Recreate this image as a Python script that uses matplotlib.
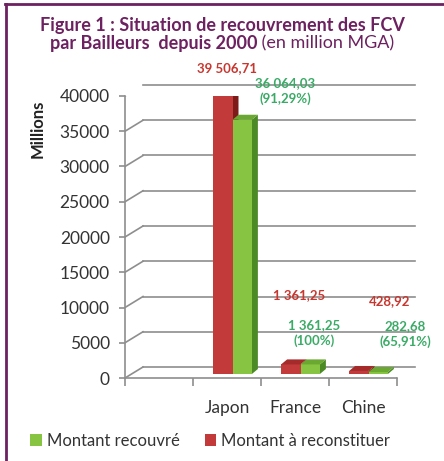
import matplotlib
matplotlib.use("Agg")
import matplotlib.pyplot as plt
from matplotlib.patches import Polygon, Patch
from matplotlib.lines import Line2D
from matplotlib.transforms import ScaledTranslation

# ---------------- data ----------------
categories = ["", "Japon", "France", "Chine"]
reconstituer = [None, 39506.71, 1361.25, 428.92]     # red
recouvre = [None, 36064.03, 1361.25, 282.68]          # green
red_labels = [None, "39 506,71", "1 361,25", "428,92"]
green_labels = [None, "36 064,03\n(91,29%)", "1 361,25\n(100%)", "282,68\n(65,91%)"]
yticks = list(range(0, 40001, 5000))
series_names = ["Montant recouvré", "Montant à reconstituer"]

# ---------------- style ----------------
FONT = "Lato"
plt.rcParams["font.family"] = [FONT, "DejaVu Sans"]
PURPLE = "#6d2160"
RED = "#c23a3a"
RED_TOP = "#a52a2a"
RED_SIDE = "#7d1a1a"
GREEN = "#86c441"
GREEN_TOP = "#6aa832"
GREEN_SIDE = "#4b8a25"
RED_TXT = "#c8372f"
GREEN_TXT = "#3aab66"
GRID = "#8e8e8e"
TXT = "#333333"

W, H, DPI = 444, 461, 100
fig = plt.figure(figsize=(W / DPI, H / DPI), dpi=DPI, facecolor="white")

# axes position (front plane) in pixels
left_px, right_px, bottom_px, top_px = 125, 397, 378, 96
ax = fig.add_axes([left_px / W, (H - bottom_px) / H,
                   (right_px - left_px) / W, (bottom_px - top_px) / H])
ax.set_xlim(0, len(categories))
ax.set_ylim(0, 40000)
ax.patch.set_alpha(0)

def px(dx, dy):
    return ScaledTranslation(dx / DPI, dy / DPI, fig.dpi_scale_trans)

# wall depth
WALL = px(18, 11)
wall_tr = ax.transData + WALL

# back wall gridlines + side diagonals
for v in yticks:
    ax.plot([0, len(categories)], [v, v], color=GRID, lw=1.2, transform=wall_tr,
            clip_on=False, zorder=1)
    x0, y0 = ax.transData.transform((0, v))
    ax.add_artist(Line2D([x0, x0 + 18], [y0, y0 + 11], color=GRID, lw=1.2,
                         transform=None, zorder=1))
# floor right diagonal
x0, y0 = ax.transData.transform((len(categories), 0))
ax.add_artist(Line2D([x0, x0 + 16], [y0, y0 + 11], color=GRID, lw=1.2,
                     transform=None, zorder=1))

# axes styling
for s in ["top", "right"]:
    ax.spines[s].set_visible(False)
for s in ["left", "bottom"]:
    ax.spines[s].set_color(GRID)
    ax.spines[s].set_linewidth(1.2)
ax.set_yticks(yticks)
ax.set_yticklabels([str(v) for v in yticks], fontsize=12.5, color=TXT)
ax.tick_params(axis="y", length=4, color=GRID, width=1.2, pad=7)
ax.set_xticks(range(len(categories) + 1))
ax.set_xticklabels([])
ax.tick_params(axis="x", which="major", length=6, color=GRID, width=1.2)
ax.set_xticks([i + 0.5 for i in range(len(categories))], minor=True)
ax.set_xticklabels(categories, minor=True, fontsize=12.5, color=TXT)
ax.tick_params(axis="x", which="minor", length=0, pad=16)
ax.set_ylabel("Millions", fontsize=12, fontweight="bold", color="#222222")
ax.yaxis.set_label_coords((46 - left_px) / (right_px - left_px),
                          (bottom_px - 129) / (bottom_px - top_px))

# bars (pseudo 3D)
BAR_W = 0.285
bar_front = ax.transData + px(5.5, 4)
inv = ax.transData.inverted()
o = inv.transform((0, 0))
d = inv.transform((6, 5))
ddx, ddy = d[0] - o[0], d[1] - o[1]

def bar3d(xl, h, face, top, side):
    ax.bar(xl, h, width=BAR_W, align="edge", color=face, transform=bar_front,
           zorder=5, linewidth=0)
    top_poly = Polygon([(xl, h), (xl + BAR_W, h), (xl + BAR_W + ddx, h + ddy), (xl + ddx, h + ddy)],
                       closed=True, facecolor=top, edgecolor="none", transform=bar_front, zorder=5)
    side_poly = Polygon([(xl + BAR_W, 0), (xl + BAR_W + ddx, ddy), (xl + BAR_W + ddx, h + ddy), (xl + BAR_W, h)],
                        closed=True, facecolor=side, edgecolor="none", transform=bar_front, zorder=4)
    ax.add_patch(side_poly)
    ax.add_patch(top_poly)

for i in range(len(categories)):
    if reconstituer[i] is None:
        continue
    c = i + 0.5
    bar3d(c - BAR_W, reconstituer[i], RED, RED_TOP, RED_SIDE)
    bar3d(c, recouvre[i], GREEN, GREEN_TOP, GREEN_SIDE)

# value labels (pixel offsets from bar tops)
red_off = [None, (0, 31), (4, 73), (27, 74)]
green_off = [None, (58, 33), (19, 35), (42, 42)]
for i in range(len(categories)):
    if reconstituer[i] is None:
        continue
    c = i + 0.5
    ax.annotate(red_labels[i], (c, reconstituer[i]), xytext=red_off[i], textcoords="offset pixels",
                ha="center", va="center", fontsize=9.5, fontweight="bold", color=RED_TXT,
                annotation_clip=False, zorder=10)
    ax.annotate(green_labels[i], (c, recouvre[i]), xytext=green_off[i], textcoords="offset pixels",
                ha="center", va="center", fontsize=9.5, fontweight="bold", color=GREEN_TXT,
                annotation_clip=False, zorder=10, linespacing=1.3)

# legend
handles = [Patch(facecolor=GREEN, edgecolor="none"), Patch(facecolor=RED, edgecolor="none")]
fig.legend(handles, series_names, loc="center", bbox_to_anchor=(210 / W, (H - 441) / H),
           ncol=2, frameon=False, fontsize=12, handlelength=0.7, handleheight=0.7,
           handletextpad=0.3, columnspacing=1.5, labelcolor=TXT)

# title
fig.text(0.5, 1 - 25 / H, "Figure 1 : Situation de recouvrement des FCV", ha="center", va="center",
         fontsize=13, fontweight="bold", color=PURPLE)
t_b = fig.text(0.5, 1 - 43 / H, "par Bailleurs  depuis 2000", ha="right", va="center",
               fontsize=13, fontweight="bold", color=PURPLE)
t_n = fig.text(0.5, 1 - 43 / H, " (en million MGA)", ha="left", va="center",
               fontsize=13, color=PURPLE)
fig.canvas.draw()
r = fig.canvas.get_renderer()
wb = t_b.get_window_extent(r).width
wn = t_n.get_window_extent(r).width
xs = (W / 2 - (wb + wn) / 2 + wb) / W
t_b.set_x(xs)
t_n.set_x(xs)

# frame
fig.add_artist(Line2D([5 / W, 1], [1 - 4 / H, 1 - 4 / H], color=PURPLE, lw=2, transform=fig.transFigure))
fig.add_artist(Line2D([6 / W, 6 / W], [0, 1 - 4 / H], color=PURPLE, lw=2, transform=fig.transFigure))

fig.savefig("out.png", dpi=DPI, facecolor="white")
